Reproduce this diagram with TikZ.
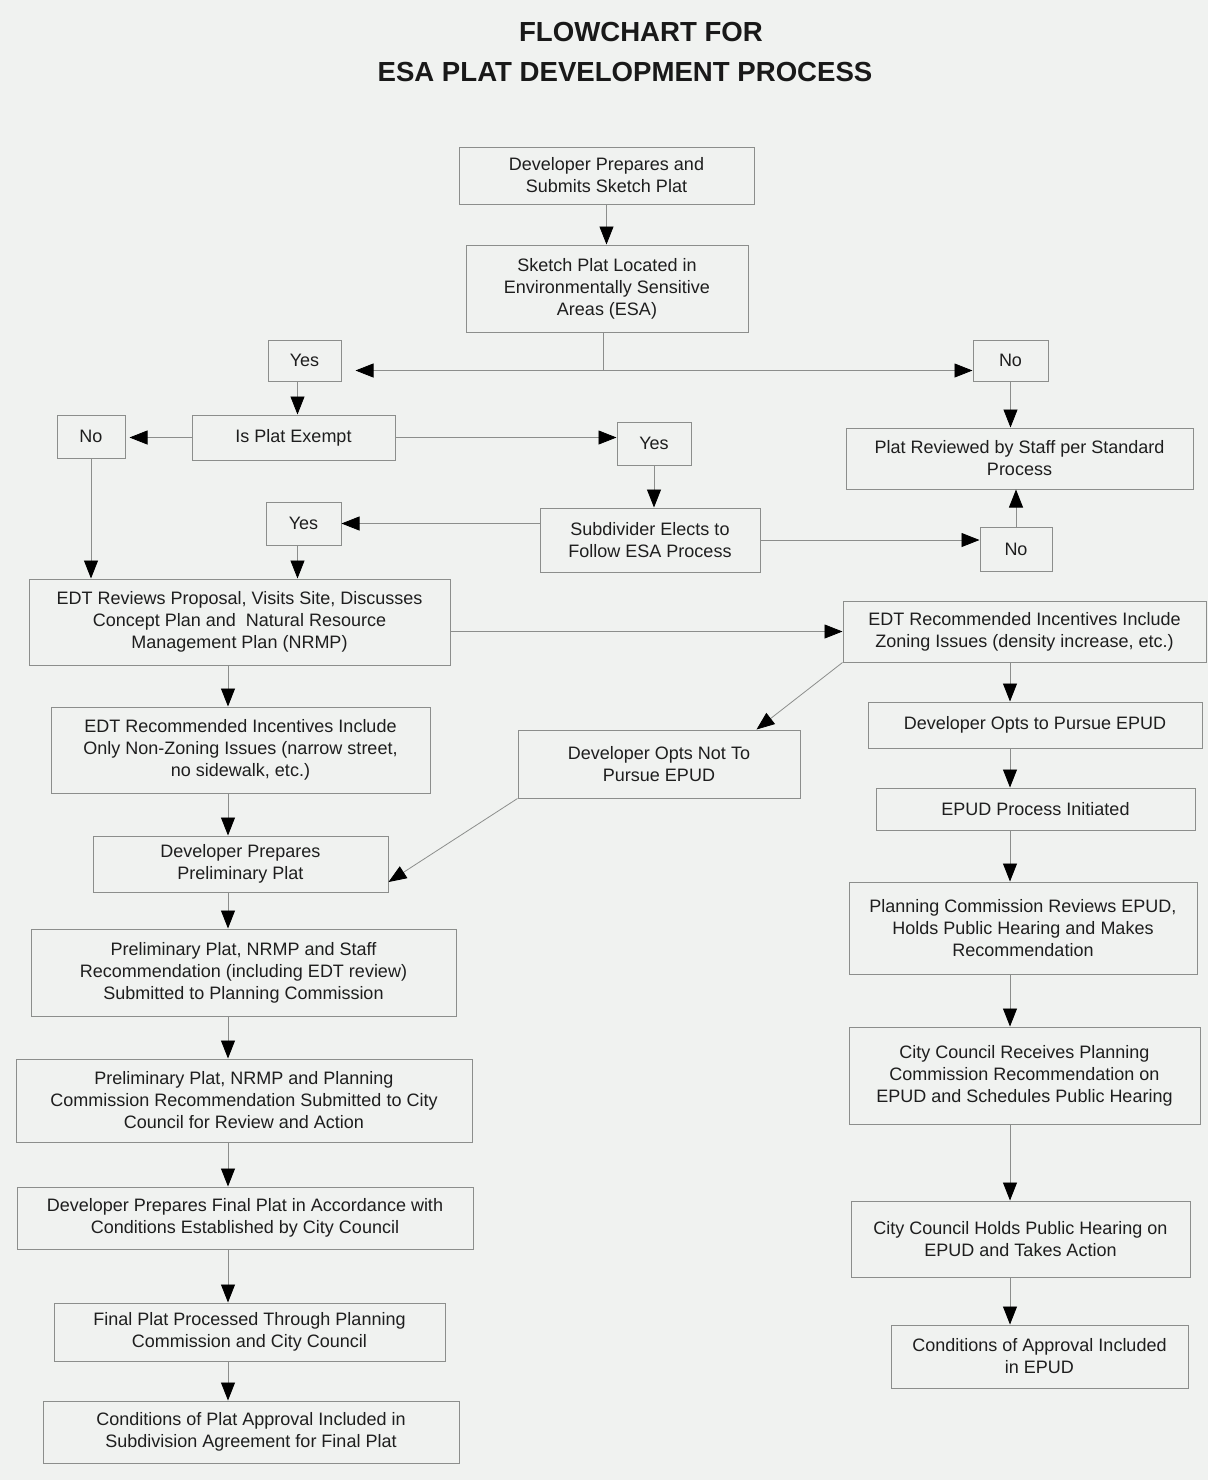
\documentclass[tikz,border=0pt]{standalone}
\usepackage{fontspec}
\setmainfont{Liberation Sans}
\usepackage{tikz}
\usetikzlibrary{arrows.meta,calc}
\definecolor{paperbg}{RGB}{240,242,240}
\definecolor{boxline}{RGB}{140,142,140}
\definecolor{inkgray}{RGB}{30,30,30}
\tikzstyle{stepbox} = [draw=boxline, rectangle, align=center, inner sep=0pt, text=inkgray, font=\fontsize{9}{11}\selectfont]
\tikzstyle{arrow} = [draw=boxline, thin, -{Triangle[width=7pt,length=9pt,color=black]}]

\begin{document}
\begin{tikzpicture}[x=0.5pt,y=-0.5pt]
\tikzstyle{every path}=[line width=0.5pt]

%% Paper and frame
\fill[paperbg] (0,0) rectangle (1208,1480);
\useasboundingbox (0,0) rectangle (1208,1480);

%% Title
\node[font=\fontsize{13.8}{16}\selectfont\bfseries,text=black!90] (titleA) at (641,32) {FLOWCHART FOR};
\node[font=\fontsize{13.8}{16}\selectfont\bfseries,text=black!90] (titleB) at (625,72) {ESA PLAT DEVELOPMENT PROCESS};

%% Spines of the two columns
\coordinate (lspine) at (228,0);
\coordinate (rspine) at (1010,0);

%% Top of the chart
\node[stepbox,minimum width=147.5pt,minimum height=28.5pt] (sketch) at (606.5,175.5)
    {Developer Prepares and\\Submits Sketch Plat};
\node[stepbox,minimum width=141pt,minimum height=43.5pt] (esa) at (607,288.5)
    {Sketch Plat Located in\\Environmentally Sensitive\\Areas (ESA)};
\node[stepbox,minimum width=36.5pt,minimum height=20.5pt] (yesA) at (304.5,360.5) {Yes};
\node[stepbox,minimum width=37.5pt,minimum height=20.5pt] (noA) at (1010.5,360.5) {No};
\node[stepbox,minimum width=101.5pt,minimum height=22.5pt] (exempt) at (293.5,437.5) {Is Plat Exempt};
\node[stepbox,minimum width=34pt,minimum height=21.5pt] (noB) at (91,436.5) {No};
\node[stepbox,minimum width=37pt,minimum height=21.5pt] (yesB) at (654,443.5) {Yes};
\node[stepbox,minimum width=173.5pt,minimum height=30.5pt] (staffrev) at (1019.5,458.5)
    {Plat Reviewed by Staff per Standard\\Process};
\node[stepbox,minimum width=110pt,minimum height=32pt] (subdiv) at (650,540)
    {Subdivider Elects to\\Follow ESA Process};
\node[stepbox,minimum width=37.5pt,minimum height=21.5pt] (yesC) at (303.5,523.5) {Yes};
\node[stepbox,minimum width=36pt,minimum height=22pt] (noC) at (1016,549) {No};

%% Left column (ESA process)
\node[stepbox,minimum width=210.5pt,minimum height=43pt] (edtrev) at (239.5,622)
    {EDT Reviews Proposal, Visits Site, Discusses\\Concept Plan and\ \ Natural Resource\\Management Plan (NRMP)};
\node[stepbox,minimum width=189.5pt,minimum height=43pt] (nonzoning) at (240.5,750)
    {EDT Recommended Incentives Include\\Only Non-Zoning Issues (narrow street,\\no sidewalk, etc.)};
\node[stepbox,minimum width=147.5pt,minimum height=28pt] (prelim) at (240.5,864)
    {Developer Prepares\\Preliminary Plat};
\node[stepbox,minimum width=212.5pt,minimum height=43.5pt] (pcsubmit) at (243.5,972.5)
    {Preliminary Plat, NRMP and Staff\\Recommendation (including EDT review)\\Submitted to Planning Commission};
\node[stepbox,minimum width=228pt,minimum height=41.5pt] (ccsubmit) at (244,1100.5)
    {Preliminary Plat, NRMP and Planning\\Commission Recommendation Submitted to City\\Council for Review and Action};
\node[stepbox,minimum width=228pt,minimum height=31pt] (finalplat) at (245,1218)
    {Developer Prepares Final Plat in Accordance with\\Conditions Established by City Council};
\node[stepbox,minimum width=195.5pt,minimum height=29pt] (processed) at (249.5,1332)
    {Final Plat Processed Through Planning\\Commission and City Council};
\node[stepbox,minimum width=208pt,minimum height=31pt] (agreement) at (251,1432)
    {Conditions of Plat Approval Included in\\Subdivision Agreement for Final Plat};

%% Middle and right column (EPUD process)
\node[stepbox,minimum width=141pt,minimum height=34pt] (notpursue) at (659,764)
    {Developer Opts Not To\\Pursue EPUD};
\node[stepbox,minimum width=181.5pt,minimum height=30.5pt] (zoning) at (1024.5,631.5)
    {EDT Recommended Incentives Include\\Zoning Issues (density increase, etc.)};
\node[stepbox,minimum width=167pt,minimum height=23pt] (pursue) at (1035,725)
    {Developer Opts to Pursue EPUD};
\node[stepbox,minimum width=159.5pt,minimum height=21pt] (initiated) at (1035.5,809)
    {EPUD Process Initiated};
\node[stepbox,minimum width=174pt,minimum height=46pt] (pcreview) at (1023,928)
    {Planning Commission Reviews EPUD,\\Holds Public Hearing and Makes\\Recommendation};
\node[stepbox,minimum width=175.5pt,minimum height=48.5pt] (ccreceive) at (1024.5,1075.5)
    {City Council Receives Planning\\Commission Recommendation on\\EPUD and Schedules Public Hearing};
\node[stepbox,minimum width=169.5pt,minimum height=38pt] (cchearing) at (1020.5,1239)
    {City Council Holds Public Hearing on\\EPUD and Takes Action};
\node[stepbox,minimum width=148.5pt,minimum height=31.5pt] (epudcond) at (1039.5,1356.5)
    {Conditions of Approval Included\\in EPUD};

%% Connectors at the top
\draw[arrow] (sketch.south) -- (sketch.south |- esa.north);
\coordinate (esafoot) at ([xshift=-2pt]esa.south);
\coordinate (split) at ($(esafoot)+(0,38)$);
\draw[boxline] (esafoot) -- (split);
\draw[arrow,shorten >=7pt] (split) -- (split -| yesA.east);
\draw[arrow] (split) -- (split -| noA.west);
\coordinate (yesAfoot) at ([xshift=-3.5pt]yesA.south);
\draw[arrow] (yesAfoot) -- (yesAfoot |- exempt.north);
\draw[arrow,shorten >=2pt] (exempt.west) -- (exempt.west -| noB.east);
\draw[arrow] (exempt.east) -- (exempt.east -| yesB.west);
\draw[arrow] (noA.south) -- (noA.south |- staffrev.north);
\draw[arrow] (yesB.south) -- (yesB.south |- subdiv.north);
\draw[arrow] (subdiv.west |- yesC.east) -- (yesC.east);
\draw[arrow] (subdiv.east) -- (subdiv.east -| noC.west);
\draw[arrow] (noC.north) -- (noC.north |- staffrev.south);
\draw[arrow] (noB.south) -- (noB.south |- edtrev.north);
\coordinate (yesCfoot) at ([xshift=-3pt]yesC.south);
\draw[arrow] (yesCfoot) -- (yesCfoot |- edtrev.north);
\draw[arrow] (edtrev.east |- zoning.west) -- (zoning.west);

%% Left column connectors
\draw[arrow] (edtrev.south -| lspine) -- (nonzoning.north -| lspine);
\draw[arrow] (nonzoning.south -| lspine) -- (prelim.north -| lspine);
\draw[arrow] (prelim.south -| lspine) -- (pcsubmit.north -| lspine);
\draw[arrow] (pcsubmit.south -| lspine) -- (ccsubmit.north -| lspine);
\draw[arrow] (ccsubmit.south -| lspine) -- (finalplat.north -| lspine);
\draw[arrow] (finalplat.south -| lspine) -- (processed.north -| lspine);
\draw[arrow] (processed.south -| lspine) -- (agreement.north -| lspine);

%% Diagonal connectors
\draw[arrow] (zoning.south west) -- ([xshift=-22pt]notpursue.north east);
\draw[arrow] (notpursue.south west) -- ([yshift=-9pt]prelim.east);

%% Right column connectors
\draw[arrow] (zoning.south -| rspine) -- (pursue.north -| rspine);
\draw[arrow] (pursue.south -| rspine) -- (initiated.north -| rspine);
\draw[arrow] (initiated.south -| rspine) -- (pcreview.north -| rspine);
\draw[arrow] (pcreview.south -| rspine) -- (ccreceive.north -| rspine);
\draw[arrow] (ccreceive.south -| rspine) -- (cchearing.north -| rspine);
\draw[arrow] (cchearing.south -| rspine) -- (epudcond.north -| rspine);

\end{tikzpicture}
\end{document}
